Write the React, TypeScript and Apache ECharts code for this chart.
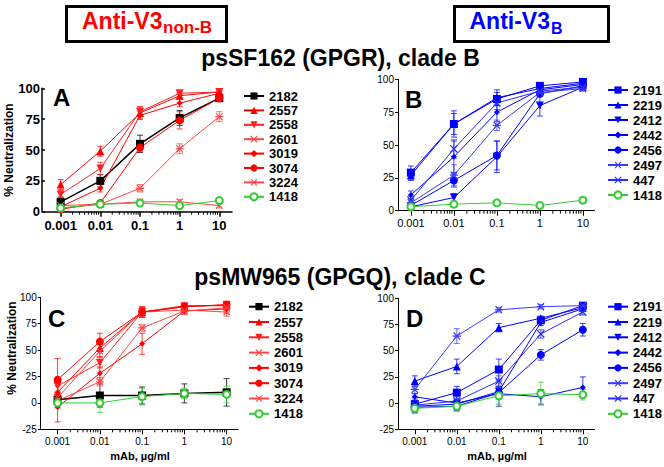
import React, { useEffect, useRef } from 'react';
import * as echarts from 'echarts';

// ---------- data ----------
const doses = [0.001, 0.01, 0.1, 1, 10];
const xTickLabels = ['0.001', '0.01', '0.1', '1', '10'];
const redNames = ['2182', '2557', '2558', '2601', '3019', '3074', '3224', '1418'];
const blueNames = ['2191', '2219', '2412', '2442', '2456', '2497', '447', '1418'];

// psSF162 (GPGR), clade B — anti-V3 non-B
const meansA = [
  [8, 25, 55, 76, 92],
  [22, 49, 80, 94, 97],
  [14, 35, 81, 96, 97],
  [5, 6, 8, 8, 5],
  [4, 19, 78, 88, 96],
  [2, 7, 52, 74, 92],
  [3, 6, 19, 51, 77],
  [3, 6, 7, 5, 9],
];
const errA = [
  [4, 5, 7, 6, 2],
  [4, 4, 5, 2, 1],
  [3, 5, 4, 1, 1],
  [2, 2, 2, 2, 2],
  [2, 3, 3, 3, 1],
  [2, 2, 3, 7, 2],
  [2, 2, 3, 4, 4],
  [1, 1, 1, 1, 2],
];
// psSF162 (GPGR), clade B — anti-V3 B
const meansB = [
  [29, 66, 85, 95, 98],
  [27, 66, 86, 93, 97],
  [3, 10, 41, 80, 94],
  [12, 41, 75, 92, 96],
  [4, 23, 42, 89, 95],
  [6, 27, 65, 90, 93],
  [8, 47, 82, 91, 94],
  [3, 5, 6, 4, 8],
];
const errB = [
  [5, 10, 5, 2, 1],
  [4, 8, 6, 2, 1],
  [2, 3, 12, 8, 2],
  [3, 12, 7, 2, 1],
  [2, 5, 11, 2, 1],
  [3, 8, 4, 2, 2],
  [3, 7, 5, 2, 2],
  [1, 1, 1, 1, 2],
];
// psMW965 (GPGQ), clade C — anti-V3 non-B
const meansC = [
  [3, 7, 7, 9, 10],
  [10, 52, 86, 92, 92],
  [16, 38, 86, 91, 93],
  [5, 49, 86, 88, 86],
  [-4, 28, 56, 87, 89],
  [22, 58, 86, 91, 93],
  [2, 20, 71, 87, 90],
  [0, 0, 6, 9, 8],
];
const errC = [
  [5, 11, 8, 9, 13],
  [6, 8, 5, 3, 3],
  [5, 5, 4, 3, 3],
  [5, 6, 4, 3, 4],
  [14, 6, 10, 3, 4],
  [20, 8, 5, 3, 3],
  [6, 4, 3, 3, 4],
  [5, 9, 8, 5, 8],
];
// psMW965 (GPGQ), clade C — anti-V3 B
const meansD = [
  [-1, 10, 32, 79, 93],
  [21, 35, 72, 81, 91],
  [-3, -1, 11, 77, 90],
  [6, 0, 9, 6, 15],
  [-4, -3, 10, 46, 70],
  [13, 64, 89, 92, 93],
  [-2, 2, 21, 66, 87],
  [-5, -3, 7, 9, 8],
];
const errD = [
  [6, 6, 10, 3, 2],
  [5, 7, 4, 2, 2],
  [4, 4, 5, 3, 2],
  [3, 3, 12, 7, 10],
  [5, 4, 6, 5, 6],
  [4, 7, 2, 2, 2],
  [4, 4, 5, 4, 3],
  [5, 5, 8, 11, 5],
];

// ---------- styles ----------
const FONT = '"Liberation Sans", Arial, Helvetica, sans-serif';
const X_PATH =
  'path://M1.5,0.5L9.5,8.5L8.5,9.5L0.5,1.5Z M8.5,0.5L9.5,1.5L1.5,9.5L0.5,8.5Z';
const AST_PATH =
  'path://M0,4.3L10,4.3L10,5.7L0,5.7Z M1.5,0.5L9.5,8.5L8.5,9.5L0.5,1.5Z M8.5,0.5L9.5,1.5L1.5,9.5L0.5,8.5Z';

type Sty = { color: string; symbol: string; size: number; rotate?: number; lw?: number };
const styles: Record<string, Sty> = {
  '2182': { color: '#000000', symbol: 'rect', size: 8, lw: 1.5 },
  '2557': { color: '#ff0000', symbol: 'triangle', size: 8 },
  '2558': { color: '#ff2020', symbol: 'triangle', size: 8, rotate: 180 },
  '2601': { color: '#ff4545', symbol: X_PATH, size: 7 },
  '3019': { color: '#ff0000', symbol: 'diamond', size: 6 },
  '3074': { color: '#ff0000', symbol: 'circle', size: 8 },
  '3224': { color: '#ff4545', symbol: AST_PATH, size: 8 },
  '1418': { color: '#33cc33', symbol: 'emptyCircle', size: 7 },
  '2191': { color: '#0000ff', symbol: 'rect', size: 8 },
  '2219': { color: '#0000ff', symbol: 'triangle', size: 8 },
  '2412': { color: '#0000ff', symbol: 'triangle', size: 8, rotate: 180 },
  '2442': { color: '#0000ff', symbol: 'diamond', size: 6 },
  '2456': { color: '#0000ff', symbol: 'circle', size: 8 },
  '2497': { color: '#3a3aff', symbol: AST_PATH, size: 8 },
  '447': { color: '#2a2aff', symbol: X_PATH, size: 8 },
};

const panels = [
  {
    letter: 'A', names: redNames, means: meansA, errs: errA,
    grid: { left: 42, top: 88.3, width: 190, height: 123.4 },
    xMin: -3.47, xMax: 1.32, yMin: 0, axisW: 1.5, bold: true, xFont: 13, yFont: 13,
    legend: { left: 243, top: 89.5, gap: 1.4 },
    letterPos: [53, 97],
  },
  {
    letter: 'B', names: blueNames, means: meansB, errs: errB,
    grid: { left: 398, top: 79.3, width: 196.5, height: 131.4 },
    xMin: -3.3, xMax: 1.27, yMin: 0, axisW: 1, bold: false, xFont: 11, yFont: 10,
    legend: { left: 607, top: 83.5, gap: 2 },
    letterPos: [405, 99],
  },
  {
    letter: 'C', names: redNames, means: meansC, errs: errC,
    grid: { left: 40.7, top: 297.3, width: 197.3, height: 132 },
    xMin: -3.4, xMax: 1.27, yMin: -25, axisW: 1, bold: false, xFont: 10, yFont: 10,
    legend: { left: 248, top: 300.2, gap: 2.3 },
    letterPos: [48, 318],
  },
  {
    letter: 'D', names: blueNames, means: meansD, errs: errD,
    grid: { left: 398, top: 298.3, width: 196.6, height: 131 },
    xMin: -3.4, xMax: 1.28, yMin: -25, axisW: 1, bold: false, xFont: 10, yFont: 10,
    legend: { left: 607, top: 300.2, gap: 2.3 },
    letterPos: [406, 318],
  },
];

const majorTicks = doses.map((d) => Math.log10(d));
const minorTicks: number[] = [];
for (let e = -3; e <= 0; e++) {
  for (let k = 2; k <= 9; k++) minorTicks.push(Math.log10(k * Math.pow(10, e)));
}

function buildOption() {
  const grid: any[] = [];
  const xAxis: any[] = [];
  const yAxis: any[] = [];
  const series: any[] = [];
  const legend: any[] = [];
  const graphic: any[] = [];

  panels.forEach((p, i) => {
    grid.push({ ...p.grid, containLabel: false });
    const lineStyle = { color: '#000', width: p.axisW };
    xAxis.push({
      type: 'value', gridIndex: i, position: 'bottom', min: p.xMin, max: p.xMax,
      axisLine: { show: true, onZero: false, lineStyle },
      axisTick: { show: true, length: 5, customValues: majorTicks, lineStyle },
      axisLabel: {
        show: true, customValues: majorTicks, margin: 7,
        fontSize: p.xFont, fontWeight: p.bold ? 'bold' : 'normal', color: '#000', fontFamily: FONT,
        formatter: (v: number) => {
          const idx = majorTicks.findIndex((t) => Math.abs(t - v) < 1e-6);
          return idx >= 0 ? xTickLabels[idx] : '';
        },
      },
      splitLine: { show: false },
    });
    yAxis.push({
      type: 'value', gridIndex: i, min: p.yMin, max: 100, interval: 25,
      axisLine: { show: true, onZero: false, lineStyle },
      axisTick: { show: true, length: 3, inside: p.bold, lineStyle },
      axisLabel: {
        margin: p.bold ? 2 : 4,
        fontSize: p.yFont, fontWeight: p.bold ? 'bold' : 'normal', color: '#000', fontFamily: FONT,
      },
      splitLine: { show: false },
    });

    // minor log-decade tick marks, placed through the axis scale
    series.push({
      type: 'custom', name: 'ticks-' + p.letter, xAxisIndex: i, yAxisIndex: i,
      silent: true, clip: false, z: 1,
      data: minorTicks.map((v) => [v, p.yMin, 3]),
      renderItem: (params: any, api: any) => {
        const pt = api.coord([api.value(0), api.value(1)]);
        const len = api.value(2);
        return {
          type: 'line',
          shape: { x1: pt[0], y1: pt[1], x2: pt[0], y2: pt[1] + len },
          style: { stroke: '#000', lineWidth: 1 },
        };
      },
    });

    p.names.forEach((name, s) => {
      const st = styles[name];
      const means = p.means[s];
      const errs = p.errs[s];
      series.push({
        type: 'custom', name: name + ' SEM ' + p.letter, xAxisIndex: i, yAxisIndex: i,
        z: 2, silent: true,
        data: doses.map((d, j) => [Math.log10(d), means[j] - errs[j], means[j] + errs[j]]),
        renderItem: (params: any, api: any) => {
          const x = api.value(0);
          const top = api.coord([x, api.value(2)]);
          const bot = api.coord([x, api.value(1)]);
          const w = 3;
          const style = { stroke: st.color, lineWidth: 1, opacity: 0.75 };
          return {
            type: 'group',
            children: [
              { type: 'line', shape: { x1: top[0], y1: top[1], x2: bot[0], y2: bot[1] }, style },
              { type: 'line', shape: { x1: top[0] - w, y1: top[1], x2: top[0] + w, y2: top[1] }, style },
              { type: 'line', shape: { x1: bot[0] - w, y1: bot[1], x2: bot[0] + w, y2: bot[1] }, style },
            ],
          };
        },
      });
      series.push({
        type: 'line', name, xAxisIndex: i, yAxisIndex: i, z: 3,
        data: doses.map((d, j) => [Math.log10(d), means[j]]),
        symbol: st.symbol, symbolSize: st.size, symbolRotate: st.rotate || 0,
        showAllSymbol: true,
        lineStyle: { color: st.color, width: st.lw || 1 },
        itemStyle: { color: st.color, borderColor: st.color, borderWidth: st.symbol === 'emptyCircle' ? 1.2 : 0 },
        emphasis: { disabled: true },
      });
    });

    legend.push({
      orient: 'vertical', left: p.legend.left, top: p.legend.top, padding: 0,
      itemWidth: 20, itemHeight: 9, itemGap: p.legend.gap, selectedMode: false,
      data: p.names,
      textStyle: { fontSize: 13, fontWeight: 'bold', color: '#000', fontFamily: FONT },
    });

    graphic.push({
      type: 'text', left: p.letterPos[0], top: p.letterPos[1] - 12,
      style: { text: p.letter, fontSize: 24, fontWeight: 'bold', fill: '#000', fontFamily: FONT },
    });
  });

  // y axis titles
  graphic.push({
    type: 'text', x: 9, y: 150, rotation: Math.PI / 2,
    style: { text: '% Neutralization', fontSize: 12, fontWeight: 'bold', fill: '#000', fontFamily: FONT, align: 'center', verticalAlign: 'middle' },
  });
  graphic.push({
    type: 'text', x: 12, y: 348, rotation: Math.PI / 2,
    style: { text: '% Neutralization', fontSize: 12, fontWeight: 'bold', fill: '#000', fontFamily: FONT, align: 'center', verticalAlign: 'middle' },
  });
  // x axis titles
  graphic.push({
    type: 'text', x: 140, y: 456,
    style: { text: 'mAb, µg/ml', fontSize: 11, fontWeight: 'bold', fill: '#000', fontFamily: FONT, align: 'center', verticalAlign: 'middle' },
  });
  graphic.push({
    type: 'text', x: 497, y: 456,
    style: { text: 'mAb, µg/ml', fontSize: 11, fontWeight: 'bold', fill: '#000', fontFamily: FONT, align: 'center', verticalAlign: 'middle' },
  });
  // header boxes
  graphic.push({
    type: 'rect', shape: { x: 66.5, y: 6.5, width: 160, height: 35 },
    style: { fill: '#fff', stroke: '#000', lineWidth: 3 },
  });
  graphic.push({
    type: 'text', x: 82, y: 20.7,
    style: { text: 'Anti-V3', fontSize: 23, fontWeight: 'bold', fill: '#ff0000', fontFamily: FONT, align: 'left', verticalAlign: 'middle' },
  });
  graphic.push({
    type: 'text', x: 163, y: 27.8,
    style: { text: 'non-B', fontSize: 17, fontWeight: 'bold', fill: '#ff0000', fontFamily: FONT, align: 'left', verticalAlign: 'middle' },
  });
  graphic.push({
    type: 'rect', shape: { x: 454.5, y: 6.5, width: 154, height: 35 },
    style: { fill: '#fff', stroke: '#000', lineWidth: 3 },
  });
  graphic.push({
    type: 'text', x: 469.5, y: 20.7,
    style: { text: 'Anti-V3', fontSize: 23, fontWeight: 'bold', fill: '#0000ff', fontFamily: FONT, align: 'left', verticalAlign: 'middle' },
  });
  graphic.push({
    type: 'text', x: 551, y: 28,
    style: { text: 'B', fontSize: 16, fontWeight: 'bold', fill: '#0000ff', fontFamily: FONT, align: 'left', verticalAlign: 'middle' },
  });
  // panel row titles
  graphic.push({
    type: 'text', x: 340.5, y: 58.4,
    style: { text: 'psSF162 (GPGR), clade B', fontSize: 23, fontWeight: 'bold', fill: '#000', fontFamily: FONT, align: 'center', verticalAlign: 'middle' },
  });
  graphic.push({
    type: 'text', x: 340, y: 276.5,
    style: { text: 'psMW965 (GPGQ), clade C', fontSize: 23, fontWeight: 'bold', fill: '#000', fontFamily: FONT, align: 'center', verticalAlign: 'middle' },
  });

  return {
    animation: false,
    backgroundColor: '#ffffff',
    textStyle: { fontFamily: FONT },
    grid, xAxis, yAxis, series, legend, graphic,
  };
}

export default function App() {
  const ref = useRef<HTMLDivElement>(null);
  useEffect(() => {
    if (!ref.current) return;
    const chart = echarts.init(ref.current, undefined, { renderer: 'svg' });
    chart.setOption(buildOption() as any);
    return () => chart.dispose();
  }, []);
  return (
    <div
      ref={ref}
      style={{ position: 'absolute', left: 0, top: 0, width: 664, height: 467, background: '#fff' }}
    />
  );
}
